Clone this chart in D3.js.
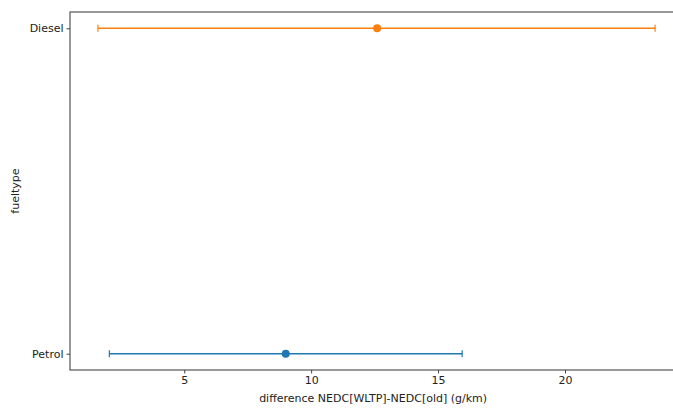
<!DOCTYPE html>
<html lang="en">
<head>
  <meta charset="UTF-8" />
  <title>Difference NEDC by fueltype</title>
  <script src="https://d3js.org/d3.v7.min.js"></script>
  <style>
    body { margin: 0; background: #fff; }
    svg { display: block; }
    text { font-family: "DejaVu Sans", sans-serif; fill: #222; }
  </style>
</head>
<body>
  <svg width="673" height="408"></svg>
  <script>
    // data
    const fueltypes = ["Petrol", "Diesel"];
    const means = [9.0, 12.6];
    const lows = [2.05, 1.6];
    const highs = [15.95, 23.55];
    const colors = ["#1f77b4", "#ff7f0e"];
    const xTicks = [5, 10, 15, 20];

    const width = 673, height = 408;
    const margin = { top: 12, right: -10, bottom: 38, left: 70 };
    const svg = d3.select("svg");

    const x = d3.scaleLinear()
      .domain([0.5, 24.65])
      .range([margin.left, width - margin.right]);

    const y = d3.scalePoint()
      .domain(fueltypes)
      .range([height - margin.bottom, margin.top])
      .padding(0.05);

    const plot = svg.append("g");

    // frame
    plot.append("rect")
      .attr("x", margin.left)
      .attr("y", margin.top)
      .attr("width", width - margin.right - margin.left)
      .attr("height", height - margin.bottom - margin.top)
      .attr("fill", "none")
      .attr("stroke", "#555")
      .attr("stroke-width", 1.2);

    // x axis
    const xAxis = svg.append("g")
      .attr("transform", `translate(0,${height - margin.bottom})`)
      .call(d3.axisBottom(x).tickValues(xTicks).tickSize(3.5).tickPadding(3));
    xAxis.select(".domain").remove();
    xAxis.selectAll("line").attr("stroke", "#444");
    xAxis.selectAll("text").attr("font-size", 11).attr("fill", "#222");

    // y axis
    const yAxis = svg.append("g")
      .attr("transform", `translate(${margin.left},0)`)
      .call(d3.axisLeft(y).tickSize(3.5).tickPadding(3));
    yAxis.select(".domain").remove();
    yAxis.selectAll("line").attr("stroke", "#444");
    yAxis.selectAll("text").attr("font-size", 11).attr("fill", "#222");

    // error bars
    const rows = fueltypes.map((f, i) => ({ f, m: means[i], lo: lows[i], hi: highs[i], c: colors[i] }));
    const g = plot.selectAll("g.err").data(rows).join("g").attr("class", "err");
    g.append("line")
      .attr("x1", d => x(d.lo)).attr("x2", d => x(d.hi))
      .attr("y1", d => y(d.f)).attr("y2", d => y(d.f))
      .attr("stroke", d => d.c).attr("stroke-width", 1.6);
    g.selectAll("line.cap").data(d => [[d.lo, d], [d.hi, d]]).join("line")
      .attr("class", "cap")
      .attr("x1", d => x(d[0])).attr("x2", d => x(d[0]))
      .attr("y1", d => y(d[1].f) - 3.5).attr("y2", d => y(d[1].f) + 3.5)
      .attr("stroke", d => d[1].c).attr("stroke-width", 1.2);
    g.append("circle")
      .attr("cx", d => x(d.m)).attr("cy", d => y(d.f))
      .attr("r", 4).attr("fill", d => d.c);

    // axis labels
    svg.append("text")
      .attr("x", x(12.6) - 4).attr("y", 402)
      .attr("text-anchor", "middle").attr("font-size", 11)
      .text("difference NEDC[WLTP]-NEDC[old] (g/km)");
    svg.append("text")
      .attr("transform", `translate(19,${(margin.top + height - margin.bottom) / 2}) rotate(-90)`)
      .attr("text-anchor", "middle").attr("font-size", 11)
      .text("fueltype");
  </script>
</body>
</html>
